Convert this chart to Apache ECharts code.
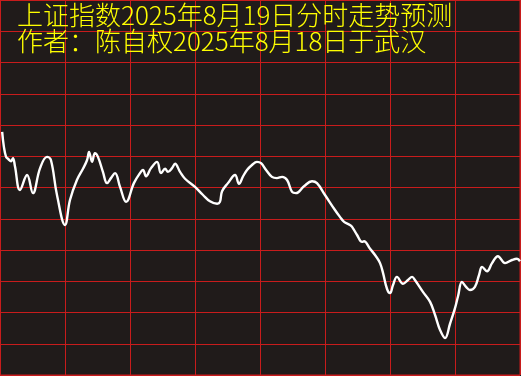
<!DOCTYPE html>
<html>
<head>
<meta charset="utf-8">
<script src="https://cdn.jsdelivr.net/npm/echarts@6/dist/echarts.min.js"></script>
<style>
html,body{margin:0;padding:0;background:#201b1a;}
#c{width:521px;height:376px;}
</style>
</head>
<body>
<div id="c"></div>
<script>
var titleLine1 = '上证指数2025年8月19日分时走势预测';
var titleLine2 = '作者：陈自权2025年8月18日于武汉';

// minutes since open (0..240)
var minutes = [1,1.8,2.8,3.7,5.1,6.0,6.9,9.2,12.5,15.2,18.5,21.7,23.5,26.3,30.0,32.3,35.5,38.3,40.2,41.1,42.5,43.8,45.2,47.5,49.4,51.2,53.1,55.4,58.2,61.8,64.6,66.0,67.4,69.7,72.5,74.3,76.2,77.5,79.4,80.8,83.1,85.4,90.0,93.7,96.9,100.2,101.5,102.5,105.2,108.5,110.3,112.2,114.0,116.3,118.6,120.5,122.8,125.5,127.8,130.2,132.5,134.8,136.6,140.3,144.0,146.3,150.0,154.6,156.9,158.8,161.5,162.5,164.8,167.1,168.0,170.8,173.5,175.4,176.8,178.6,180.0,181.4,183.2,186.0,188.3,190.2,191.5,195.2,198.5,200.8,203.1,205.4,207.7,210.0,211.4,213.2,215.1,216.9,219.2,221.1,222.5,224.8,227.1,229.8,233.1,236.3,238.6,240];
// predicted index level
var prices = [3718.9,3716.5,3714.9,3714.6,3714.2,3714.7,3713.4,3709.6,3712.0,3709.1,3713.1,3714.9,3714.4,3708.8,3704.0,3708.0,3711.2,3713.0,3714.4,3715.7,3714.1,3715.5,3714.9,3712.5,3710.7,3711.5,3712.3,3710.1,3707.7,3710.7,3712.3,3712.8,3711.8,3713.1,3714.1,3712.3,3713.0,3712.5,3713.1,3713.8,3712.5,3711.4,3710.1,3708.8,3707.8,3707.4,3707.7,3709.4,3710.7,3712.0,3710.6,3711.8,3712.8,3713.6,3714.1,3713.9,3712.8,3711.7,3711.5,3711.7,3711.2,3709.3,3709.1,3710.2,3711.0,3710.7,3708.8,3706.4,3705.3,3704.5,3704.0,3703.7,3702.4,3701.3,3701.4,3700.2,3699.0,3697.9,3696.3,3693.8,3693.1,3694.4,3695.7,3694.6,3695.2,3695.7,3695.2,3693.3,3691.7,3689.6,3687.2,3685.9,3688.2,3690.7,3692.6,3694.9,3694.1,3693.6,3694.1,3696.0,3697.3,3696.6,3697.9,3699.0,3697.9,3698.4,3698.6,3698.2];

var seriesData = minutes.map(function(t, i){ return [t, prices[i]]; });

var chart = echarts.init(document.getElementById('c'), null, {renderer:'canvas'});
var red = '#c81c1c';
chart.setOption({
  backgroundColor: '#201b1a',
  animation: false,
  title: [
    {text: titleLine1, left: 17, top: 0, padding: 0,
     textStyle: {color: '#ffff00', fontSize: 26, fontWeight: 300, fontFamily: 'Noto Sans CJK SC', lineHeight: 30}},
    {text: titleLine2, left: 17, top: 26, padding: 0,
     textStyle: {color: '#ffff00', fontSize: 26, fontWeight: 300, fontFamily: 'Noto Sans CJK SC', lineHeight: 30}}
  ],
  grid: {left: 0, top: 0, width: 520, height: 375, show: true, borderColor: red, borderWidth: 1, backgroundColor: 'transparent'},
  xAxis: {
    type: 'value', min: 0, max: 240, interval: 30,
    axisLine: {show: false}, axisTick: {show: false}, axisLabel: {show: false},
    splitLine: {show: true, lineStyle: {color: red, width: 1}}
  },
  yAxis: {
    type: 'value', min: 3680, max: 3740, interval: 5,
    axisLine: {show: false}, axisTick: {show: false}, axisLabel: {show: false},
    splitLine: {show: true, lineStyle: {color: red, width: 1}}
  },
  series: [{
    type: 'line', data: seriesData, smooth: 0.4, showSymbol: false,
    lineStyle: {color: '#ffffff', width: 2.4}, z: 5
  }]
});
</script>
</body>
</html>
